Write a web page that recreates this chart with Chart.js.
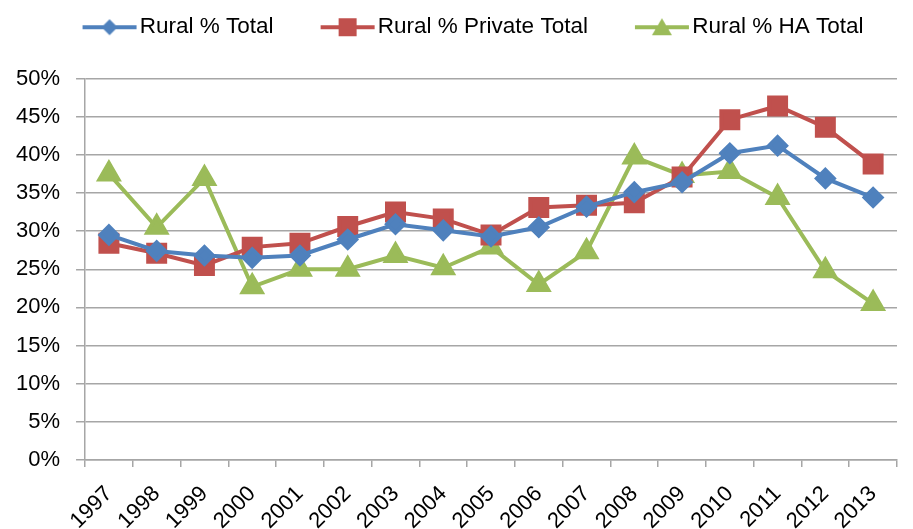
<!DOCTYPE html>
<html>
<head>
<meta charset="utf-8">
<script src="https://cdn.jsdelivr.net/npm/chart.js@4.4.1/dist/chart.umd.min.js"></script>
<style>
  html, body { margin: 0; padding: 0; background: #fff; }
</style>
</head>
<body>
<canvas id="myChart" width="913" height="529"></canvas>
<script>
// data
const years = ['1997','1998','1999','2000','2001','2002','2003','2004','2005','2006','2007','2008','2009','2010','2011','2012','2013'];
const ruralTotal   = [29.5, 27.4, 26.8, 26.5, 26.8, 28.9, 30.9, 30.1, 29.3, 30.5, 33.2, 35.1, 36.4, 40.2, 41.2, 36.9, 34.4];
const ruralPrivate = [28.4, 27.1, 25.5, 27.9, 28.4, 30.6, 32.5, 31.6, 29.5, 33.1, 33.4, 33.7, 37.1, 44.6, 46.4, 43.6, 38.8];
const ruralHA      = [37.5, 30.5, 36.9, 22.7, 25.0, 25.0, 26.8, 25.2, 27.9, 23.0, 27.3, 39.7, 37.3, 37.8, 34.4, 24.8, 20.5];
const yTicks = [0, 5, 10, 15, 20, 25, 30, 35, 40, 45, 50];

const blue = '#4F81BD';
const red = '#C0504D';
const green = '#9BBB59';
const font = "'Liberation Sans', sans-serif";

// legend swatch: line with the marker in the middle, sitting at the right of a 100px canvas
function swatch(color, style) {
    const c = document.createElement('canvas');
    c.width = 100; c.height = 22;
    const g = c.getContext('2d');
    g.strokeStyle = color;
    g.lineWidth = 4;
    g.beginPath(); g.moveTo(44, 11); g.lineTo(98, 11); g.stroke();
    g.fillStyle = color;
    g.beginPath();
    if (style === 'rectRot') {
        g.moveTo(71, 3); g.lineTo(79, 11); g.lineTo(71, 19); g.lineTo(63, 11);
    } else if (style === 'rect') {
        g.rect(62, 2, 18, 18);
    } else {
        g.moveTo(71, 2); g.lineTo(81, 19); g.lineTo(61, 19);
    }
    g.closePath(); g.fill();
    return c;
}

// extra room under the legend, and keep it where the reference has it
const legendGap = {
    id: 'legendGap',
    beforeInit(chart) {
        const fit = chart.legend.fit;
        chart.legend.fit = function () {
            fit.bind(chart.legend)();
            this.height += 30;
        };
    },
    afterLayout(chart) {
        chart.legend.left -= 7;
        chart.legend.right -= 7;
    }
};

const ctx = document.getElementById('myChart');

let myChart = new Chart(ctx, {
    type: 'line',
    data: {
        labels: years,
        datasets: [{
            label: 'Rural % Total',
            data: ruralTotal,
            borderColor: blue,
            backgroundColor: blue,
            borderWidth: 4,
            pointStyle: 'rectRot',
            pointRadius: 8.5,
            legendStyle: swatch(blue, 'rectRot')
        }, {
            label: 'Rural % Private Total',
            data: ruralPrivate,
            borderColor: red,
            backgroundColor: red,
            borderWidth: 4,
            pointStyle: 'rect',
            pointRadius: 12,
            legendStyle: swatch(red, 'rect')
        }, {
            label: 'Rural % HA Total',
            data: ruralHA,
            borderColor: green,
            backgroundColor: green,
            borderWidth: 4,
            pointStyle: 'triangle',
            pointRadius: 11,
            legendStyle: swatch(green, 'triangle')
        }]
    },
    options: {
        responsive: false,
        animation: false,
        layout: { padding: { left: 0, right: -13, top: 3, bottom: 0 } },
        plugins: {
            legend: {
                position: 'top',
                labels: {
                    usePointStyle: true,
                    pointStyleWidth: 80,
                    font: { family: font, size: 22.5 },
                    color: '#000',
                    padding: 13,
                    generateLabels: (chart) => chart.data.datasets.map((ds, i) => ({
                        text: ds.label,
                        pointStyle: ds.legendStyle,
                        fillStyle: ds.borderColor,
                        strokeStyle: ds.borderColor,
                        datasetIndex: i,
                        hidden: false
                    }))
                }
            },
            tooltip: { enabled: false }
        },
        scales: {
            x: {
                offset: true,
                // the year labels run off the bottom edge in the reference
                afterFit: (axis) => { axis.height = 69; },
                grid: {
                    drawOnChartArea: false,
                    drawTicks: true,
                    offset: true,
                    tickLength: 7,
                    color: '#a6a6a6',
                    lineWidth: 1.5
                },
                border: { color: '#a6a6a6', width: 1.5 },
                ticks: {
                    color: '#000',
                    font: { family: font, size: 22 },
                    minRotation: 45,
                    maxRotation: 45,
                    padding: 14,
                    autoSkip: false
                }
            },
            y: {
                min: 0,
                max: 50,
                afterBuildTicks: (axis) => { axis.ticks = yTicks.map(v => ({ value: v })); },
                grid: {
                    color: '#a6a6a6',
                    lineWidth: 1.5,
                    tickLength: 9
                },
                border: { color: '#a6a6a6', width: 1.5 },
                ticks: {
                    color: '#000',
                    font: { family: font, size: 22 },
                    padding: 16,
                    callback: (v) => v + '%'
                }
            }
        }
    },
    plugins: [legendGap]
});
</script>
</body>
</html>
